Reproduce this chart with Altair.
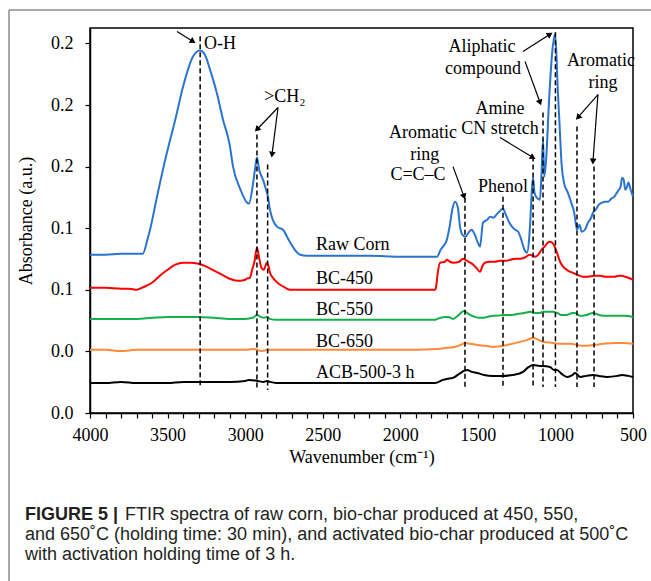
import math
import altair as alt
import pandas as pd

# ---------------- data ----------------
series_names = ["Raw Corn", "BC-450", "BC-550", "BC-650", "ACB-500-3 h"]
series_colors = ["#2a74d0", "#ff0000", "#13b04a", "#ff8a3a", "#000000"]

raw_wn = [4000, 3900, 3800, 3700, 3660, 3630, 3610, 3568, 3504, 3450, 3400, 3336, 3291, 3260, 3227, 3180,
          3143, 3100, 3078, 3030, 2988, 2975, 2950, 2935, 2924, 2910, 2885, 2865, 2853, 2840, 2795, 2756,
          2720, 2680, 2646, 2600, 2400, 2200, 2000, 1800, 1763, 1740, 1725, 1700, 1680, 1665, 1647, 1630,
          1615, 1600, 1580, 1560, 1540, 1520, 1500, 1486, 1467, 1440, 1420, 1400, 1380, 1350, 1338, 1320,
          1300, 1280, 1260, 1240, 1220, 1200, 1183, 1170, 1160, 1150, 1144, 1135, 1120, 1100, 1090, 1080,
          1072, 1060, 1040, 1020, 1003, 995, 985, 975, 960, 945, 920, 900, 880, 861, 845, 830, 810, 790,
          770, 758, 740, 720, 700, 680, 660, 640, 620, 600, 580, 570, 560, 550, 540, 530, 515, 500]
raw_abs = [0.1028, 0.1028, 0.1034, 0.1034, 0.1034, 0.1125, 0.1203, 0.1405, 0.1691, 0.1906, 0.2120, 0.2315,
           0.2354, 0.2328, 0.2231, 0.2068, 0.1906, 0.1743, 0.1600, 0.1450, 0.1366, 0.1360, 0.1483, 0.1593,
           0.1659, 0.1581, 0.1515, 0.1450, 0.1405, 0.1320, 0.1210, 0.1190, 0.1125, 0.1060, 0.1028, 0.1021,
           0.1021, 0.1021, 0.1015, 0.1015, 0.1015, 0.1060, 0.1080, 0.1125, 0.1223, 0.1320, 0.1372, 0.1340,
           0.1210, 0.1158, 0.1145, 0.1171, 0.1190, 0.1158, 0.1106, 0.1080, 0.1236, 0.1255, 0.1275, 0.1268,
           0.1288, 0.1320, 0.1327, 0.1288, 0.1242, 0.1210, 0.1190, 0.1177, 0.1125, 0.1060, 0.1041, 0.1125,
           0.1288, 0.1483, 0.1528, 0.1431, 0.1398, 0.1385, 0.1548, 0.1776, 0.1535, 0.1646, 0.2050, 0.2350,
           0.2459, 0.2361, 0.2101, 0.1906, 0.1613, 0.1496, 0.1431, 0.1372, 0.1307, 0.1190, 0.1223, 0.1177,
           0.1190, 0.1236, 0.1268, 0.1301, 0.1320, 0.1353, 0.1366, 0.1372, 0.1372, 0.1392, 0.1405, 0.1437,
           0.1470, 0.1528, 0.1515, 0.1450, 0.1463, 0.1496, 0.1450, 0.1405]

bc450_wn = [4000, 3900, 3800, 3750, 3697, 3680, 3650, 3600, 3550, 3500, 3450, 3400, 3355, 3300, 3250, 3200,
            3150, 3100, 3050, 3033, 3000, 2990, 2970, 2955, 2940, 2924, 2910, 2895, 2880, 2860, 2850, 2840,
            2810, 2775, 2740, 2711, 2500, 2200, 2000, 1776, 1770, 1760, 1744, 1712, 1700, 1680, 1660, 1620,
            1596, 1580, 1560, 1530, 1510, 1486, 1470, 1455, 1420, 1390, 1360, 1320, 1290, 1260, 1228, 1200,
            1164, 1150, 1130, 1110, 1090, 1070, 1050, 1035, 1020, 1005, 990, 970, 950, 920, 890, 860, 822,
            790, 750, 710, 680, 650, 620, 590, 571, 550, 530, 500]
bc450_abs = [0.0813, 0.0813, 0.0807, 0.0807, 0.0800, 0.0807, 0.0820, 0.0846, 0.0891, 0.0930, 0.0963, 0.0976,
             0.0976, 0.0969, 0.0950, 0.0924, 0.0898, 0.0872, 0.0859, 0.0859, 0.0865, 0.0872, 0.0878, 0.0930,
             0.0982, 0.1073, 0.1008, 0.0943, 0.0930, 0.0976, 0.0956, 0.0911, 0.0865, 0.0833, 0.0813, 0.0800,
             0.0800, 0.0800, 0.0800, 0.0800, 0.0813, 0.0898, 0.0976, 0.0982, 0.0995, 0.0982, 0.0976, 0.0982,
             0.1002, 0.0995, 0.0982, 0.0963, 0.0943, 0.0917, 0.0956, 0.0976, 0.0982, 0.0982, 0.0989, 0.0989,
             0.0995, 0.1002, 0.1002, 0.1008, 0.1028, 0.1021, 0.1015, 0.1028, 0.1060, 0.1080, 0.1106, 0.1112,
             0.1106, 0.1080, 0.1041, 0.0982, 0.0950, 0.0924, 0.0911, 0.0898, 0.0885, 0.0885, 0.0891, 0.0891,
             0.0885, 0.0885, 0.0885, 0.0891, 0.0891, 0.0885, 0.0878, 0.0865]

bc550_wn = [4000, 3900, 3800, 3700, 3600, 3500, 3400, 3300, 3200, 3100, 3000, 2950, 2924, 2900, 2880, 2860,
            2840, 2800, 2400, 2000, 1780, 1760, 1740, 1712, 1690, 1660, 1630, 1610, 1590, 1570, 1550, 1520,
            1490, 1470, 1440, 1402, 1380, 1340, 1312, 1280, 1240, 1200, 1164, 1130, 1099, 1080, 1040, 1016,
            990, 960, 925, 890, 874, 842, 800, 758, 740, 693, 650, 584, 550, 500]
bc550_abs = [0.0611, 0.0611, 0.0611, 0.0611, 0.0618, 0.0624, 0.0624, 0.0624, 0.0618, 0.0611, 0.0611, 0.0618,
             0.0637, 0.0624, 0.0618, 0.0624, 0.0611, 0.0605, 0.0605, 0.0605, 0.0605, 0.0611, 0.0618, 0.0624,
             0.0624, 0.0611, 0.0631, 0.0650, 0.0663, 0.0650, 0.0637, 0.0624, 0.0618, 0.0618, 0.0624, 0.0631,
             0.0631, 0.0637, 0.0637, 0.0637, 0.0644, 0.0650, 0.0657, 0.0650, 0.0650, 0.0657, 0.0657, 0.0657,
             0.0650, 0.0637, 0.0637, 0.0650, 0.0650, 0.0631, 0.0637, 0.0650, 0.0644, 0.0631, 0.0631, 0.0631,
             0.0631, 0.0624]

bc650_wn = [4000, 3900, 3800, 3700, 3500, 3300, 3100, 3000, 2950, 2920, 2900, 2850, 2500, 2000, 1763, 1700,
            1650, 1610, 1583, 1550, 1505, 1450, 1400, 1338, 1280, 1228, 1180, 1144, 1120, 1080, 1016, 970,
            906, 822, 750, 693, 620, 564, 500]
bc650_abs = [0.0410, 0.0410, 0.0403, 0.0410, 0.0410, 0.0410, 0.0410, 0.0410, 0.0416, 0.0410, 0.0403, 0.0410,
             0.0410, 0.0410, 0.0416, 0.0423, 0.0429, 0.0442, 0.0455, 0.0449, 0.0442, 0.0436, 0.0429, 0.0436,
             0.0449, 0.0462, 0.0475, 0.0488, 0.0481, 0.0462, 0.0455, 0.0449, 0.0449, 0.0436, 0.0442, 0.0449,
             0.0455, 0.0455, 0.0449]

acb_wn = [4000, 3900, 3800, 3700, 3600, 3500, 3400, 3300, 3200, 3100, 3000, 2975, 2920, 2880, 2859, 2840,
          2800, 2400, 2000, 1776, 1725, 1700, 1660, 1620, 1590, 1570, 1540, 1505, 1460, 1402, 1350, 1273,
          1209, 1180, 1144, 1100, 1080, 1035, 1010, 990, 960, 925, 890, 874, 850, 842, 800, 758, 720, 668,
          600, 571, 530, 500]
acb_abs = [0.0195, 0.0195, 0.0202, 0.0195, 0.0195, 0.0195, 0.0202, 0.0202, 0.0202, 0.0202, 0.0208, 0.0215,
           0.0208, 0.0202, 0.0208, 0.0202, 0.0195, 0.0195, 0.0195, 0.0195, 0.0215, 0.0221, 0.0228, 0.0254,
           0.0273, 0.0280, 0.0267, 0.0260, 0.0247, 0.0241, 0.0241, 0.0247, 0.0267, 0.0293, 0.0312, 0.0306,
           0.0306, 0.0299, 0.0280, 0.0280, 0.0254, 0.0234, 0.0247, 0.0260, 0.0241, 0.0234, 0.0241, 0.0247,
           0.0241, 0.0234, 0.0241, 0.0247, 0.0241, 0.0234]

# dashed marker lines: wavenumber, top, bottom
dash_wn = [3290, 2924, 2855, 1583, 1338, 1144, 1080, 1000, 861, 751]
dash_top = [0.2446, 0.1808, 0.1613, 0.1398, 0.1405, 0.1665, 0.1951, 0.2472, 0.1860, 0.1600]
dash_bottom = [0.0163, 0.0150, 0.0150, 0.0169, 0.0169, 0.0169, 0.0169, 0.0169, 0.0169, 0.0169]

# annotation texts (centered)
ann_text = ["Aliphatic", "compound", "Aromatic", "ring", "Amine", "CN stretch",
            "Aromatic", "ring", "C=C\u2013C", "Phenol"]
ann_wn = [1473, 1467, 706, 693, 1357, 1357, 1854, 1842, 1886, 1338]
ann_abs = [0.2374, 0.2231, 0.2283, 0.2146, 0.1971, 0.1841, 0.1821, 0.1678, 0.1548, 0.1470]

# left-aligned annotation texts
left_text = ["O-H", ">CH\u2082", "Raw Corn", "BC-450", "BC-550", "BC-650", "ACB-500-3 h"]
left_wn = [3265, 2878, 2543, 2543, 2543, 2543, 2543]
left_abs = [0.2394, 0.2055, 0.1093, 0.0872, 0.0670, 0.0462, 0.0260]

# arrows: start (wn, abs) -> end (wn, abs)
arr_wn1 = [3439, 2788, 2788, 1209, 1196, 726, 726, 1357, 1660]
arr_abs1 = [0.2478, 0.1984, 0.1984, 0.2348, 0.2283, 0.2068, 0.2068, 0.1789, 0.1600]
arr_wn2 = [3336, 2924, 2827, 1035, 1099, 855, 758, 1145, 1589]
arr_abs2 = [0.2413, 0.1841, 0.1678, 0.2459, 0.2016, 0.1919, 0.1633, 0.1659, 0.1405]

caption_bold = "FIGURE 5 |"
caption_lines = ["FTIR spectra of raw corn, bio-char produced at 450, 550,",
                 "and 650\u02daC (holding time: 30 min), and activated bio-char produced at 500\u02daC",
                 "with activation holding time of 3 h."]

y_ticks = [0, 0.04, 0.08, 0.12, 0.16, 0.20, 0.24]

# ---------------- build tables ----------------
X_DOM = [500, 4000]
Y_DOM = [0, 0.25]
W, H = 543, 385

rows = []
for name, wns, vals in zip(series_names,
                           [raw_wn, bc450_wn, bc550_wn, bc650_wn, acb_wn],
                           [raw_abs, bc450_abs, bc550_abs, bc650_abs, acb_abs]):
    for w, v in zip(wns, vals):
        rows.append({"series": name, "wn": w, "abs": v})
df = pd.DataFrame(rows)

df_dash = pd.DataFrame({"wn": dash_wn, "abs": dash_top, "abs2": dash_bottom})
df_ann = pd.DataFrame({"wn": ann_wn, "abs": ann_abs, "label": ann_text})
df_left = pd.DataFrame({"wn": left_wn, "abs": left_abs, "label": left_text})


def to_px(w, v):
    return (X_DOM[1] - w) / (X_DOM[1] - X_DOM[0]) * W, (Y_DOM[1] - v) / (Y_DOM[1] - Y_DOM[0]) * H


angles = []
for w1, v1, w2, v2 in zip(arr_wn1, arr_abs1, arr_wn2, arr_abs2):
    x1, y1 = to_px(w1, v1)
    x2, y2 = to_px(w2, v2)
    angles.append(math.degrees(math.atan2(x2 - x1, -(y2 - y1))) % 360)
df_arr = pd.DataFrame({"wn": arr_wn1, "abs": arr_abs1, "wn2": arr_wn2, "abs2": arr_abs2})
df_head = pd.DataFrame({"wn": arr_wn2, "abs": arr_abs2, "angle": angles})

SERIF = "Liberation Serif"
SANS = "Liberation Sans"

xscale = alt.Scale(domain=X_DOM, reverse=True, nice=False, zero=False)
yscale = alt.Scale(domain=Y_DOM, nice=False, zero=False)

xaxis = alt.Axis(values=list(range(500, 4001, 100)),
                 labelExpr="datum.value % 500 == 0 ? datum.label : ''",
                 format="d", tickSize=5, labelPadding=8, labelOverlap=False, labelFlush=False,
                 labelFont=SERIF, labelFontSize=18, labelColor="black",
                 title="Wavenumber (cm\u207b\u00b9)", titlePadding=4, grid=False,
                 titleFont=SERIF, titleFontSize=18, titleFontWeight="normal", titleColor="black")
yaxis = alt.Axis(values=y_ticks, format=".1f", tickSize=5, labelPadding=12,
                 labelFont=SERIF, labelFontSize=18, labelColor="black",
                 title="Absorbance (a.u.)", titlePadding=15, grid=False,
                 titleFont=SERIF, titleFontSize=18, titleFontWeight="normal", titleColor="black")

X = alt.X("wn:Q", scale=xscale, axis=xaxis)
Y = alt.Y("abs:Q", scale=yscale, axis=yaxis)

lines = alt.Chart(df).mark_line(strokeWidth=2, interpolate="monotone").encode(
    x=X, y=Y,
    color=alt.Color("series:N", scale=alt.Scale(domain=series_names, range=series_colors), legend=None),
)

dashes = alt.Chart(df_dash).mark_rule(color="black", strokeWidth=1.5, strokeDash=[5, 3]).encode(
    x=X, y=Y, y2="abs2:Q")

arrows = alt.Chart(df_arr).mark_rule(color="black", strokeWidth=1.2).encode(
    x=X, y=Y, x2="wn2:Q", y2="abs2:Q")

heads = alt.Chart(df_head).mark_point(shape="triangle-up", filled=True, size=45, color="black",
                                      opacity=1).encode(
    x=X, y=Y, angle=alt.Angle("angle:Q", scale=None))

ann = alt.Chart(df_ann).mark_text(font=SERIF, fontSize=18, color="black", align="center",
                                  baseline="middle").encode(x=X, y=Y, text="label:N")
left = alt.Chart(df_left).mark_text(font=SERIF, fontSize=18, color="black", align="left",
                                    baseline="middle").encode(x=X, y=Y, text="label:N")

one = pd.DataFrame({"k": [0]})
frame_top = alt.Chart(one).mark_rule(color="#8c8c8c", strokeWidth=1.5).encode(
    x=alt.value(-81), x2=alt.value(561), y=alt.value(-18))
frame_left = alt.Chart(one).mark_rule(color="#8c8c8c", strokeWidth=1.5).encode(
    x=alt.value(-81), y=alt.value(-18), y2=alt.value(553))

cap_color = "#231f20"
cap_bold = alt.Chart(one).mark_text(font=SANS, fontSize=18, fontWeight="bold", color=cap_color,
                                    align="left", baseline="alphabetic", text=caption_bold).encode(
    x=alt.value(-65), y=alt.value(492))
cap1 = alt.Chart(one).mark_text(font=SANS, fontSize=18, color=cap_color, align="left",
                                baseline="alphabetic", text=caption_lines[0]).encode(
    x=alt.value(35), y=alt.value(492))
cap2 = alt.Chart(one).mark_text(font=SANS, fontSize=18, color=cap_color, align="left",
                                baseline="alphabetic", text=caption_lines[1]).encode(
    x=alt.value(-65), y=alt.value(512))
cap3 = alt.Chart(one).mark_text(font=SANS, fontSize=18, color=cap_color, align="left",
                                baseline="alphabetic", text=caption_lines[2]).encode(
    x=alt.value(-65), y=alt.value(532))

chart = alt.layer(lines, dashes, arrows, heads, ann, left,
                  frame_top, frame_left, cap_bold, cap1, cap2, cap3).properties(
    width=W, height=H,
    autosize=alt.AutoSizeParams(type="none"),
    padding={"left": 90, "top": 28, "right": 18, "bottom": 168},
    background="white",
).configure_view(stroke="black", strokeWidth=1.5).configure_axis(
    labelFont=SERIF, labelFontSize=18, labelColor="black",
    titleFont=SERIF, titleFontSize=18, titleFontWeight="normal", titleColor="black",
    domainColor="black", domainWidth=1.5, tickColor="black", tickWidth=1.2,
)

chart.save("out.html", embed_options={"renderer": "svg", "actions": False})
